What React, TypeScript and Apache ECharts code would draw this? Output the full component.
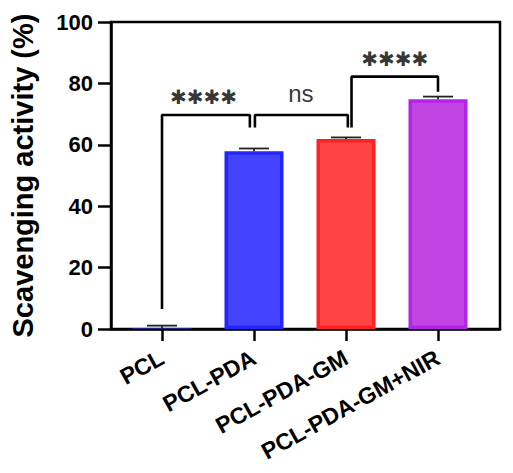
import React, { useEffect, useRef } from "react";
import * as echarts from "echarts";

const categories = ["PCL", "PCL-PDA", "PCL-PDA-GM", "PCL-PDA-GM+NIR"];
const means = [0.2, 57.9, 61.9, 74.8];
const errors = [0.9, 0.9, 0.5, 0.9];
const fillColors = ["#4444ff", "#4444ff", "#ff4444", "#c244e2"];
const borderColors = ["#2424ff", "#2424ff", "#ff2222", "#b224e6"];
const yTicks = { min: 0, max: 100, interval: 20 };

const bracket1 = [[0, 6.5], [0, 69.7], [0.955, 69.7], [0.955, 65.6]];
const bracket2 = [[1.01, 65.6], [1.01, 69.7], [2.02, 69.7], [2.02, 65.6]];
const bracket3 = [[2.06, 65.6], [2.06, 82.2], [3, 82.2], [3, 77.3]];
const sigLabels = [
  { x: 0.45, y: 75.6, text: "✱✱✱✱", kind: "star" },
  { x: 1.51, y: 76.6, text: "ns", kind: "ns" },
  { x: 2.53, y: 88.0, text: "✱✱✱✱", kind: "star" },
];

const FONT = "'Liberation Sans', Arial, Helvetica, sans-serif";

export default function App() {
  const ref = useRef<HTMLDivElement>(null);
  useEffect(() => {
    if (!ref.current) return;
    const chart = echarts.init(ref.current, undefined, { renderer: "svg" });
    const bracketSeries = [bracket1, bracket2, bracket3].map((b) => ({
      type: "line",
      xAxisIndex: 1,
      yAxisIndex: 0,
      data: b,
      symbol: "none",
      lineStyle: { color: "#000", width: 2.6 },
      z: 5,
      silent: true,
    }));
    chart.setOption({
      animation: false,
      backgroundColor: "#fff",
      grid: [
        { left: 116, right: 29, top: 22, bottom: 144 },
        { left: 100, right: 13, top: 22, bottom: 144, show: true, borderColor: "#000", borderWidth: 2.5, backgroundColor: "transparent" },
      ],
      xAxis: [
        {
          type: "category",
          gridIndex: 0,
          data: categories,
          axisLine: { show: false },
          axisTick: { show: true, alignWithLabel: true, length: 12, lineStyle: { color: "#000", width: 2.5 } },
          axisLabel: { rotate: 29, margin: 27, color: "#000", fontWeight: "bold", fontSize: 23, fontFamily: FONT, interval: 0 },
        },
        { type: "value", gridIndex: 0, min: -0.5, max: 3.5, show: false },
        {
          type: "value",
          gridIndex: 1,
          min: 0,
          max: 1,
          axisLine: { show: true, lineStyle: { color: "#000", width: 2.5 } },
          axisTick: { show: false },
          axisLabel: { show: false },
          splitLine: { show: false },
        },
      ],
      yAxis: [
        { type: "value", gridIndex: 0, min: yTicks.min, max: yTicks.max, show: false },
        {
          type: "value",
          gridIndex: 1,
          min: yTicks.min,
          max: yTicks.max,
          interval: yTicks.interval,
          name: "Scavenging activity (%)",
          nameLocation: "middle",
          nameGap: 74,
          nameTextStyle: { color: "#000", fontWeight: "bold", fontSize: 29, fontFamily: FONT },
          axisLine: { show: true, lineStyle: { color: "#000", width: 2.5 } },
          axisTick: { show: true, length: 13, lineStyle: { color: "#000", width: 2.5 } },
          axisLabel: { color: "#000", fontWeight: "bold", fontSize: 22, fontFamily: FONT, margin: 18 },
          splitLine: { show: false },
        },
      ],
      series: [
        {
          type: "bar",
          xAxisIndex: 0,
          yAxisIndex: 0,
          barWidth: 59,
          data: means.map((v, i) => ({
            value: v,
            itemStyle: { color: fillColors[i], borderColor: borderColors[i], borderWidth: i === 0 ? 0 : 3.5 },
          })),
          z: 2,
        },
        {
          type: "custom",
          xAxisIndex: 0,
          yAxisIndex: 0,
          data: means.map((v, i) => [i, v, errors[i]]),
          z: 4,
          renderItem: (params: any, api: any) => {
            const i = api.value(0);
            const m = api.value(1);
            const e = api.value(2);
            const top = api.coord([i, m]);
            const hi = api.coord([i, m + e]);
            const style = { stroke: "#222", lineWidth: 1.8 };
            return {
              type: "group",
              children: [
                { type: "line", shape: { x1: top[0], y1: top[1], x2: hi[0], y2: hi[1] }, style },
                { type: "line", shape: { x1: hi[0] - 15, y1: hi[1], x2: hi[0] + 15, y2: hi[1] }, style },
              ],
            };
          },
        },
        ...bracketSeries,
        {
          type: "scatter",
          xAxisIndex: 1,
          yAxisIndex: 0,
          symbolSize: 1,
          itemStyle: { color: "transparent" },
          silent: true,
          z: 6,
          data: sigLabels.map((s) => ({
            value: [s.x, s.y],
            label: {
              show: true,
              position: "inside",
              formatter: s.text,
              color: "#000",
              fontSize: s.kind === "star" ? 20 : 24,
              fontFamily: s.kind === "star" ? "'DejaVu Sans', sans-serif" : FONT,
            },
          })),
        },
      ],
    });
    return () => chart.dispose();
  }, []);
  return <div ref={ref} style={{ position: "fixed", left: 0, top: 0, width: 513, height: 473 }} />;
}
